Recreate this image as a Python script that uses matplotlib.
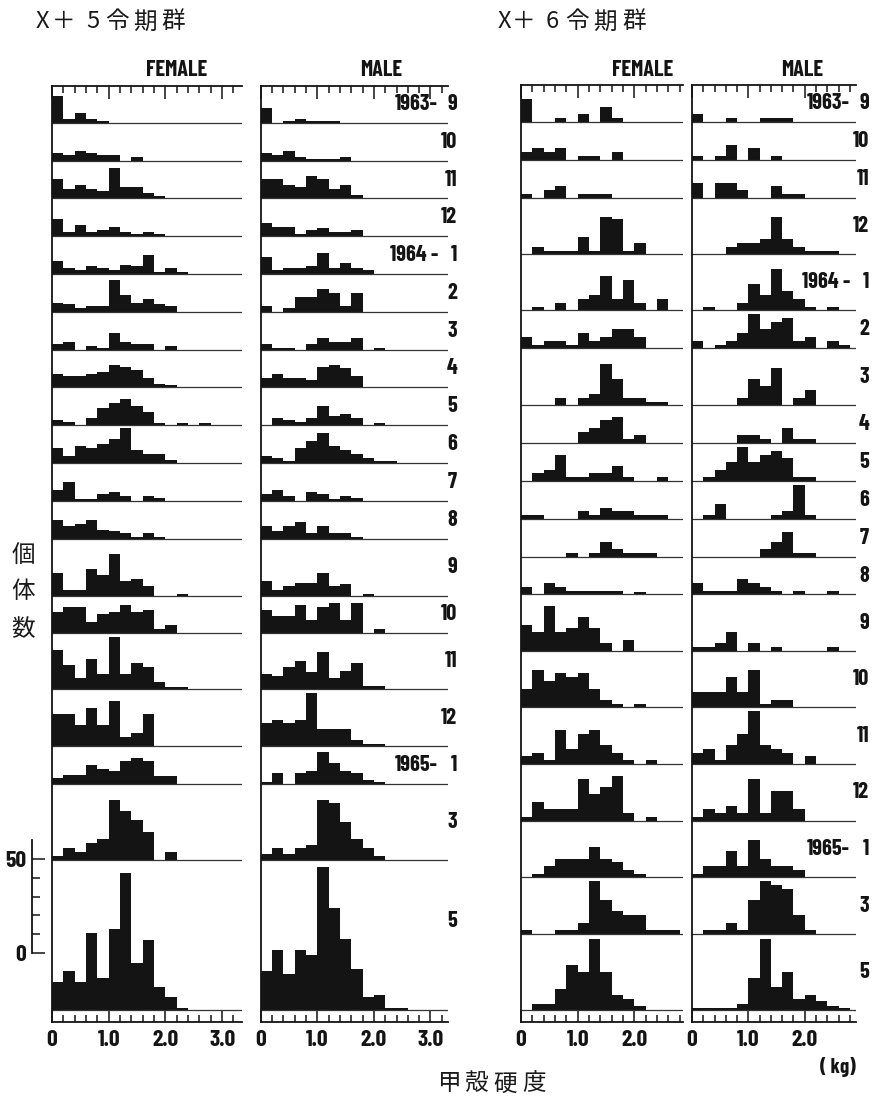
import numpy as np
import matplotlib.pyplot as plt
from matplotlib.ticker import FixedLocator, MultipleLocator

# --- Data: number of individuals per 0.2 kg class of carapace hardness ------
# one list per sampling month, first value = class 0-0.2 kg
MONTHS = ["9", "10", "11", "12", "1", "2", "3", "4", "5", "6", "7", "8",
          "9", "10", "11", "12", "1", "3", "5"]
YEAR_AT = {0: "1963-", 4: "1964 -", 16: "1965-"}

# X+5 instar group, female
F5 = [
    [14, 2, 5, 2, 1],
    [4, 3, 5, 4, 3, 3, 0, 2],
    [10, 5, 7, 5, 4, 16, 6, 6, 3, 1],
    [9, 2, 6, 2, 3, 5, 2, 1, 2, 1],
    [7, 3, 2, 4, 3, 2, 5, 4, 10, 1, 3, 1],
    [5, 4, 2, 3, 3, 17, 9, 5, 7, 4, 3],
    [3, 4, 0, 2, 1, 9, 4, 3, 3, 0, 2],
    [7, 6, 6, 7, 8, 12, 11, 9, 5, 2, 1],
    [3, 2, 0, 4, 9, 12, 14, 10, 7, 1, 0, 1, 0, 1],
    [8, 4, 9, 8, 10, 13, 19, 7, 5, 5, 2],
    [6, 10, 1, 1, 4, 5, 3, 0, 3, 2],
    [10, 7, 8, 10, 5, 4, 3, 1, 3, 1],
    [12, 3, 3, 14, 11, 22, 8, 9, 5, 0, 0, 1],
    [11, 14, 14, 6, 10, 11, 15, 11, 12, 2, 4],
    [21, 13, 6, 16, 8, 28, 8, 14, 12, 4, 1, 1],
    [17, 17, 11, 20, 11, 24, 5, 7, 17],
    [3, 5, 5, 10, 8, 7, 12, 14, 12, 4, 4],
    [2, 6, 4, 9, 11, 32, 26, 21, 15, 0, 4],
    [15, 21, 15, 41, 17, 43, 73, 25, 37, 12, 7, 1],
]

# X+5 instar group, male
M5 = [
    [8, 0, 1, 2, 1, 1, 1],
    [4, 3, 5, 2, 1, 1, 1, 2],
    [10, 10, 7, 6, 12, 10, 5, 7, 2],
    [7, 5, 5, 1, 3, 4, 2, 2, 3],
    [9, 2, 3, 3, 4, 11, 3, 6, 3, 2],
    [3, 0, 2, 8, 8, 12, 10, 3, 10],
    [3, 1, 1, 0, 3, 6, 4, 4, 6, 0, 1],
    [5, 7, 5, 5, 4, 11, 12, 10, 6],
    [0, 4, 3, 2, 4, 10, 5, 6, 4, 0, 1],
    [4, 3, 1, 8, 12, 16, 9, 7, 5, 3, 1, 1],
    [4, 6, 3, 0, 5, 4, 1, 3, 2],
    [7, 4, 7, 9, 3, 7, 3, 3, 1],
    [8, 3, 5, 7, 7, 12, 5, 6, 0, 1],
    [12, 9, 9, 15, 7, 14, 16, 7, 16, 0, 2],
    [8, 7, 12, 15, 9, 20, 6, 10, 14, 2, 2],
    [12, 14, 12, 14, 28, 9, 9, 9, 3, 1, 1],
    [1, 6, 0, 6, 7, 17, 11, 7, 6, 2, 1],
    [3, 6, 3, 6, 8, 32, 30, 20, 11, 6, 2],
    [21, 32, 19, 32, 29, 76, 54, 38, 22, 7, 8, 1, 1],
]

# X+6 instar group, female
F6 = [
    [12, 0, 0, 2, 0, 4, 0, 8, 2],
    [4, 6, 4, 6, 0, 2, 2, 0, 4],
    [2, 0, 4, 6, 0, 2, 2, 2],
    [0, 4, 2, 2, 2, 9, 2, 20, 19, 2, 6],
    [0, 2, 0, 4, 0, 6, 8, 18, 6, 16, 4, 0, 6],
    [6, 2, 4, 4, 2, 8, 4, 6, 10, 10, 6],
    [0, 0, 0, 4, 0, 4, 6, 22, 14, 4, 4, 2, 2],
    [0, 0, 0, 0, 0, 6, 8, 12, 14, 2, 4],
    [0, 4, 6, 14, 2, 2, 4, 4, 8, 2, 0, 0, 2],
    [2, 2, 0, 0, 0, 4, 2, 6, 4, 4, 2, 2, 2],
    [0, 0, 0, 0, 2, 0, 2, 8, 4, 2, 2, 2],
    [4, 0, 6, 4, 2, 2, 2, 2, 2, 0, 1],
    [14, 10, 24, 10, 12, 18, 12, 4, 0, 6],
    [10, 20, 14, 18, 16, 18, 10, 4, 2, 0, 2],
    [4, 6, 2, 18, 8, 16, 18, 10, 6, 2, 0, 2],
    [2, 10, 6, 6, 6, 22, 14, 18, 24, 4, 0, 2],
    [0, 2, 6, 10, 10, 10, 16, 10, 8, 4, 2],
    [2, 0, 0, 2, 2, 6, 28, 18, 12, 10, 10, 2, 2, 2],
    [0, 3, 3, 11, 24, 20, 38, 20, 8, 6, 2],
]

# X+6 instar group, male
M6 = [
    [4, 0, 0, 2, 0, 0, 2, 2, 2],
    [2, 0, 2, 8, 0, 6, 0, 2],
    [8, 0, 8, 8, 4, 0, 0, 6, 2, 2],
    [0, 0, 0, 4, 6, 6, 8, 20, 8, 4, 2, 2, 2],
    [0, 2, 0, 0, 4, 14, 8, 22, 10, 6, 2, 0, 2],
    [4, 0, 2, 4, 8, 18, 10, 14, 16, 4, 6, 0, 4, 2],
    [0, 0, 0, 0, 4, 14, 10, 20, 0, 4, 8],
    [0, 0, 0, 0, 4, 4, 2, 0, 8, 2, 2],
    [0, 2, 6, 10, 18, 10, 14, 16, 12, 2, 2],
    [0, 2, 8, 0, 0, 0, 0, 2, 4, 18, 2],
    [0, 0, 0, 0, 0, 0, 4, 8, 13, 2, 2],
    [6, 2, 2, 2, 8, 6, 4, 2, 0, 2, 0, 0, 2],
    [2, 2, 4, 10, 0, 4, 0, 2, 0, 0, 0, 0, 2],
    [8, 8, 8, 16, 8, 20, 2, 4, 4],
    [6, 8, 2, 10, 16, 28, 10, 8, 6, 0, 4],
    [2, 6, 4, 8, 4, 22, 4, 16, 16, 6],
    [2, 6, 6, 14, 6, 20, 10, 6, 6, 4],
    [0, 2, 2, 6, 2, 18, 28, 26, 24, 10, 2],
    [1, 1, 1, 1, 3, 17, 38, 12, 20, 6, 8, 5, 2, 1],
]

# --- Layout (pixels of the 874x1103 page) -----------------------------------
W, H = 874, 1103
PXC = 1.88          # pixels per individual
BIN = 0.2           # kg per class
INK = "#141414"

BASE5 = [122.7, 160.7, 198.3, 236, 274, 312, 349.7, 387.3, 425.3, 463.3,
         501.3, 539, 595.7, 633, 689.3, 746, 784, 859.7, 1010]
BASE6 = [121.7, 159.7, 197.7, 254.3, 310.3, 348.3, 405.3, 443, 481, 519,
         556.7, 594.3, 651, 707.3, 764, 820.7, 877.3, 934, 1010]

NUM = dict(family=["Barlow Condensed", "DejaVu Sans"], weight="bold",
           color=INK)
JP = dict(family=["Noto Sans CJK JP", "DejaVu Sans"], color="#1a1a1a")

fig = plt.figure(figsize=(W / 100, H / 100), dpi=100)


def px_text(x, y, s, **kw):
    fig.text(x / W, 1 - y / H, s, va="center", **kw)


def column(x0, x1, xmax, top, bottom, bases, rows, ticks):
    ax = fig.add_axes([x0 / W, 1 - bottom / H, (x1 - x0) / W, (bottom - top) / H])
    ax.set_xlim(0, xmax)
    ax.set_ylim(0, (bottom - top) / PXC)
    for base, counts in zip(bases, rows):
        b = (bottom - base) / PXC
        left = np.arange(len(counts)) * BIN
        ax.bar(left, counts, width=BIN, bottom=b, align="edge",
               color=INK, linewidth=0)
        ax.axhline(b, color="#333333", lw=0.9)
    ax.spines["right"].set_visible(False)
    for s in ("left", "top", "bottom"):
        ax.spines[s].set_linewidth(1.3)
        ax.spines[s].set_color(INK)
    ax.set_yticks([])
    ax.xaxis.set_major_locator(FixedLocator(ticks))
    ax.xaxis.set_minor_locator(MultipleLocator(BIN))
    ax.set_xticklabels(["0" if t == 0 else f"{t:.1f}" for t in ticks],
                       fontsize=17, **NUM)
    ax.tick_params(axis="x", which="both", direction="in", top=True,
                   bottom=True, color=INK, width=1.1, pad=6)
    ax.tick_params(axis="x", which="major", length=9)
    ax.tick_params(axis="x", which="minor", length=5)
    return ax


# X+5 group
column(52, 242, 3.35, 86, 1022, BASE5, F5, [0, 1, 2, 3])
column(260.7, 448, 3.31, 86, 1022, BASE5, M5, [0, 1, 2, 3])
# X+6 group
column(521, 683, 2.86, 85, 1022, BASE6, F6, [0, 1, 2])
column(692, 856, 2.91, 85, 1022, BASE6, M6, [0, 1, 2])

# month labels at the right of each group
for bases, top, xr in ((BASE5, 86, 457), (BASE6, 85, 869)):
    prev = top
    for i, (base, m) in enumerate(zip(bases, MONTHS)):
        y = (prev + base) / 2
        if bases is BASE5 and i == len(bases) - 1:
            y -= 14
        px_text(xr, y, m, ha="right", fontsize=16, **NUM)
        if i in YEAR_AT:
            px_text(xr - 19, y, YEAR_AT[i], ha="right", fontsize=16, **NUM)
        prev = base

# headers
for x, s in ((177, "FEMALE"), (381, "MALE"), (643, "FEMALE"), (802, "MALE")):
    px_text(x, 70, s, ha="center", fontsize=16, **NUM)

# group titles, placed character by character
for chars, xs in ((["X", "＋", "5", "令", "期", "群"], [42, 64, 93, 117, 145, 173]),
                  (["X", "＋", "6", "令", "期", "群"], [504, 524, 552, 577, 605, 634])):
    for c, x in zip(chars, xs):
        px_text(x, 22, c, ha="center", fontsize=17, **JP)

# y label, vertical characters
for c, y in zip("個体数", [555, 592, 630]):
    px_text(23, y, c, ha="center", fontsize=17, **JP)

# x label
for c, x in zip("甲殻硬度", [450, 477, 505, 534]):
    px_text(x, 1084, c, ha="center", fontsize=17, **JP)
px_text(838, 1067, "( kg)", ha="center", fontsize=15, **NUM)

# scale bar for the number of individuals
sb = fig.add_axes([32 / W, 1 - 953 / H, 12 / W, 60 * PXC / H])
sb.set_ylim(0, 60)
sb.set_xlim(0, 1)
for s in ("right", "top", "bottom"):
    sb.spines[s].set_visible(False)
sb.spines["left"].set_linewidth(1.3)
sb.spines["left"].set_color(INK)
sb.set_xticks([])
sb.set_yticks([0, 50])
sb.set_yticklabels(["0", "50"], fontsize=17, **NUM)
sb.yaxis.set_minor_locator(FixedLocator([10, 20, 30, 40]))
sb.tick_params(axis="y", which="both", direction="in", color=INK, width=1.1, pad=4)
sb.tick_params(axis="y", which="major", length=9)
sb.tick_params(axis="y", which="minor", length=6)

fig.savefig("out.png", dpi=100)
